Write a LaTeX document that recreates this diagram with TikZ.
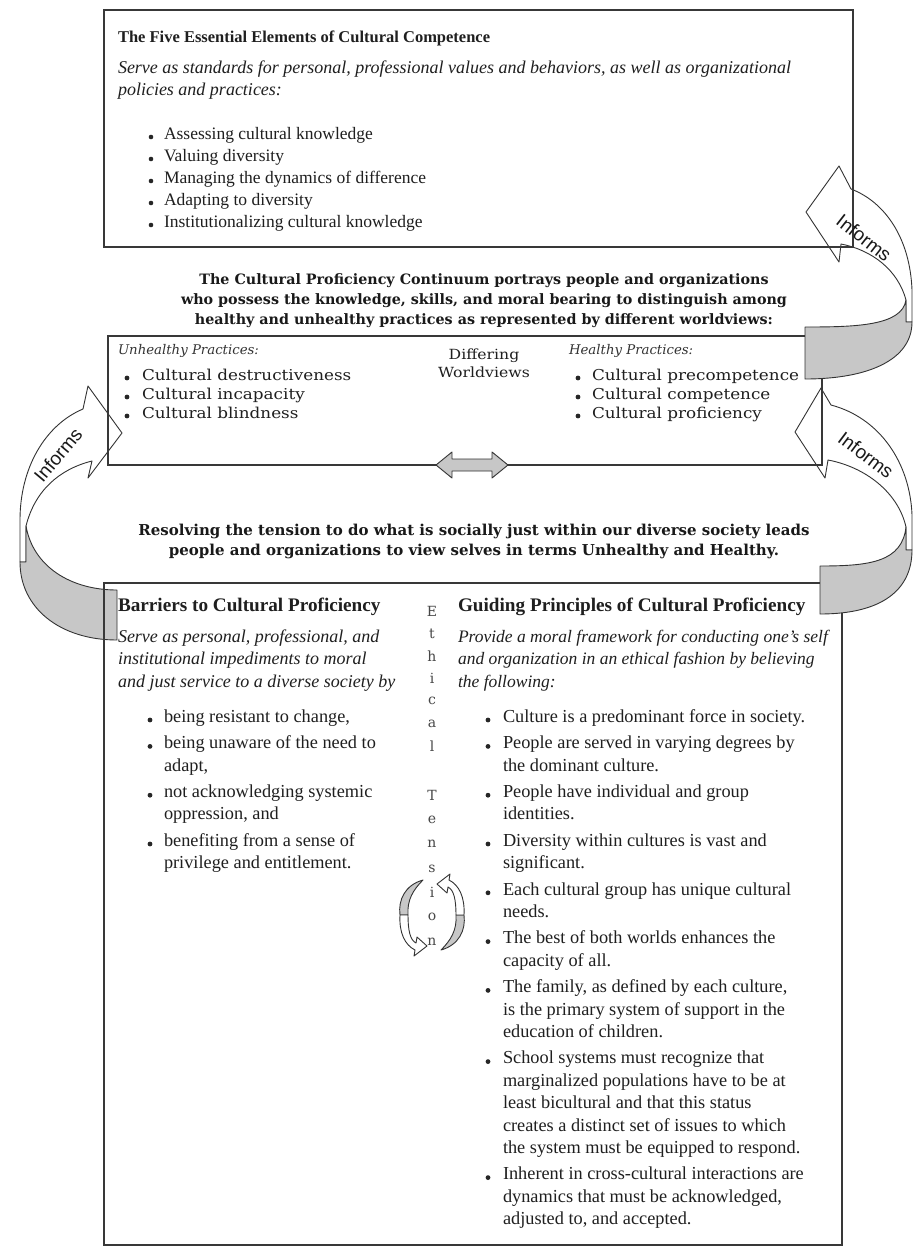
\documentclass[tikz,border=0pt]{standalone}
\usepackage{fontspec}
\setmainfont{Liberation Serif}
\newfontfamily\schfam{DejaVu Serif}
\newfontfamily\schwide[FakeStretch=1.12]{DejaVu Serif}
\newfontfamily\hvfam{Liberation Sans}
\begin{document}
\begin{tikzpicture}[x=1pt,y=-1pt,
  t/.style={anchor=mid west, inner sep=0pt, outer sep=0pt, text=black!88, font=\rmfamily\fontsize{17.5}{20}\selectfont},
  tt/.style={t, font=\rmfamily\fontsize{18.3}{20}\selectfont},
  ti/.style={t, font=\rmfamily\itshape\fontsize{18}{20}\selectfont},
  tir/.style={t, font=\rmfamily\itshape\fontsize{17.5}{20}\selectfont},
  tb/.style={t, font=\rmfamily\bfseries\fontsize{16.5}{20}\selectfont},
  tbb/.style={t, font=\rmfamily\bfseries\fontsize{19.2}{20}\selectfont},
  sc/.style={anchor=mid west, inner sep=0pt, outer sep=0pt, text=black!88, font=\schwide\fontsize{15}{17}\selectfont},
  si/.style={sc, text=black!80, font=\schfam\itshape\fontsize{13.3}{17}\selectfont},
  bp/.style={inner sep=0pt, align=center, text=black!90, font=\schfam\fontsize{14.3}{20}\selectfont\bfseries},
  lt/.style={inner sep=0pt, text=black!72, font=\schfam\fontsize{14}{15}\selectfont},
  inf/.style={inner sep=0pt, text=black!90, font=\hvfam\fontsize{19}{20}\selectfont},
  box/.style={draw=black!78, line width=1.4pt},
  rib/.style={draw=black!80, line width=0.9pt, line join=round},
  backface/.style={rib, fill=black!22},
  frontface/.style={rib, fill=white},
  dot/.style={fill=black!85}
]
\fill[white] (0,0) rectangle (915,1253);
\useasboundingbox (0,0) rectangle (915,1253);

% ---------- ribbons: front faces ----------
\path[frontface] (20,562) -- (20,520) .. controls (20,468) and (45,425) .. (83,409) -- (88,386) -- (122,433) -- (88,478) -- (92,461) .. controls (60,469) and (35,490) .. (26,526) -- (26,562) -- cycle;
\path[backface] (26,526) .. controls (33,566) and (70,590) .. (117,590) -- (117,640) .. controls (60,640) and (20,608) .. (20,562) -- (26,562) -- cycle;
\path[frontface] (912,322) -- (912,290) .. controls (910,238) and (885,202) .. (851,189) -- (839,166) -- (806,212) -- (839,262) -- (841,244) .. controls (872,250) and (898,270) .. (906,300) -- (906,322) -- cycle;
\path[frontface] (912,550) -- (912,515) .. controls (910,463) and (880,418) .. (831,405) -- (821,388) -- (795,432) -- (825,478) -- (828,460) .. controls (865,467) and (898,492) .. (906,527) -- (906,550) -- cycle;

% ---------- boxes ----------
\draw[box] (104,10) rectangle (853,247);
\draw[box] (108,336) rectangle (822,465);
\draw[box] (104,583) rectangle (842,1245);

% ---------- back faces on top of box corners ----------
\path[backface] (906,300) .. controls (902,326) and (855,327) .. (805,327) -- (805,379) .. controls (868,379) and (912,360) .. (912,322) -- (906,322) -- cycle;
\path[backface] (906,527) .. controls (902,562) and (870,566) .. (820,566) -- (820,614) .. controls (882,614) and (912,590) .. (912,550) -- (906,550) -- cycle;

% ---------- Informs labels ----------
\node[inf, rotate=50] (infL) at (58,455) {Informs};
\node[inf, rotate=-38] (infTR) at (864,238) {Informs};
\node[inf, rotate=-37] (infRL) at (866,455) {Informs};

% ---------- top box ----------
\node[tb] (t1) at (118,40) {The Five Essential Elements of Cultural Competence};
\node[ti] (t2) at (118,71) {Serve as standards for personal, professional values and behaviors, as well as organizational};
\node[ti] (t3) at (118,93) {policies and practices:};
\foreach \y/\s/\n in {137/Assessing cultural knowledge/e1, 159/Valuing diversity/e2, 181/Managing the dynamics of difference/e3, 203/Adapting to diversity/e4, 225/Institutionalizing cultural knowledge/e5}{
  \fill[dot] (151,\y) circle (2.3pt);
  \node[t] (\n) at (164,\y) {\s};
}

% ---------- continuum paragraph ----------
\node[bp] (cont) at (484,301) {The Cultural Proficiency Continuum portrays people and organizations\\who possess the knowledge, skills, and moral bearing to distinguish among\\healthy and unhealthy practices as represented by different worldviews:};

% ---------- middle box ----------
\node[si] (uh) at (118,352) {Unhealthy Practices:};
\foreach \y/\s/\n in {378/Cultural destructiveness/u1, 397/Cultural incapacity/u2, 416/Cultural blindness/u3}{
  \fill[dot] (127,\y) circle (2.4pt);
  \node[sc] (\n) at (142,\y) {\s};
}
\node[sc, anchor=center, align=center, font=\schwide\fontsize{14}{18}\selectfont] (dw) at (484,363) {Differing\\Worldviews};
\node[si] (hp) at (569,352) {Healthy Practices:};
\foreach \y/\s/\n in {378/Cultural precompetence/h1, 397/Cultural competence/h2, 416/Cultural proficiency/h3}{
  \fill[dot] (578,\y) circle (2.4pt);
  \node[sc] (\n) at (592,\y) {\s};
}
\path[rib, fill=black!22] (436,465) -- (452,452) -- (452,459) -- (492,459) -- (492,452) -- (508,465) -- (492,478) -- (492,471) -- (452,471) -- (452,478) -- cycle;

% ---------- resolving paragraph ----------
\node[bp, font=\schfam\fontsize{15}{20}\selectfont\bfseries] (res) at (474,541) {Resolving the tension to do what is socially just within our diverse society leads\\people and organizations to view selves in terms Unhealthy and Healthy.};

% ---------- bottom box: barriers ----------
\node[tbb] (b0) at (118,609) {Barriers to Cultural Proficiency};
\node[ti] (b1) at (118,640) {Serve as personal, professional, and};
\node[ti] (b2) at (118,662.5) {institutional impediments to moral};
\node[ti] (b3) at (118,685) {and just service to a diverse society by};
\foreach \y in {720,746.4,795.2,844}{ \fill[dot] (150,\y) circle (2.4pt); }
\node[tt] (bl1) at (164,720) {being resistant to change,};
\node[tt] (bl2) at (164,746.4) {being unaware of the need to};
\node[tt] (bl3) at (164,768.8) {adapt,};
\node[tt] (bl4) at (164,795.2) {not acknowledging systemic};
\node[tt] (bl5) at (164,817.6) {oppression, and};
\node[tt] (bl6) at (164,844) {benefiting from a sense of};
\node[tt] (bl7) at (164,866.4) {privilege and entitlement.};

% ---------- Ethical Tension ----------
\foreach \y/\c/\n in {611/E/L1, 633.6/t/L2, 656.1/h/L3, 678.7/i/L4, 701.3/c/L5, 723.9/a/L6, 746.4/l/L7, 795.2/T/L8, 819.6/e/L9, 844/n/L10, 868.4/s/L11, 892.8/i/L12, 917.2/o/L13, 941.6/n/L14}{
  \node[lt] (\n) at (432,\y) {\c};
}
\path[backface] (423,880) .. controls (405,885) and (398,900) .. (400,915) -- (408,915) .. controls (407,900) and (413,890) .. (423,880) -- cycle;
\path[frontface] (400,915) .. controls (399,933) and (405,945) .. (415,950) -- (414,956) -- (427,946) -- (417,937) -- (416,943) .. controls (410,940) and (408,930) .. (408,915) -- cycle;
\path[backface] (441,950) .. controls (459,945) and (466,930) .. (464,915) -- (456,915) .. controls (457,930) and (451,940) .. (441,950) -- cycle;
\path[frontface] (464,915) .. controls (465,897) and (459,885) .. (449,880) -- (450,874) -- (437,884) -- (447,893) -- (448,887) .. controls (454,890) and (456,900) .. (456,915) -- cycle;

% ---------- bottom box: guiding principles ----------
\node[tbb] (g0) at (458,609) {Guiding Principles of Cultural Proficiency};
\node[tir] (g1) at (458,640) {Provide a moral framework for conducting one's self};
\node[tir] (g2) at (458,662.5) {and organization in an ethical fashion by believing};
\node[tir] (g3) at (458,685) {the following:};
\foreach \y in {720,746.4,795.2,844,892.8,941.6,990.4,1061.6,1177.6}{ \fill[dot] (488,\y) circle (2.4pt); }
\foreach \y/\s/\n in {720/Culture is a predominant force in society./p1,
  746.4/People are served in varying degrees by/p2, 768.8/the dominant culture./p3,
  795.2/People have individual and group/p4, 817.6/identities./p5,
  844/Diversity within cultures is vast and/p6, 866.4/significant./p7,
  892.8/Each cultural group has unique cultural/p8, 915.2/needs./p9,
  941.6/The best of both worlds enhances the/p10, 964/capacity of all./p11,
  990.4/{The family, as defined by each culture,}/p12, 1012.8/is the primary system of support in the/p13, 1035.2/education of children./p14,
  1061.6/School systems must recognize that/p15, 1084/marginalized populations have to be at/p16, 1106.4/least bicultural and that this status/p17, 1128.8/creates a distinct set of issues to which/p18, 1151.2/the system must be equipped to respond./p19,
  1177.6/Inherent in cross-cultural interactions are/p20, 1200/{dynamics that must be acknowledged,}/p21, 1222.4/{adjusted to, and accepted.}/p22}{
  \node[tt] (\n) at (503,\y) {\s};
}
\end{tikzpicture}
\end{document}
